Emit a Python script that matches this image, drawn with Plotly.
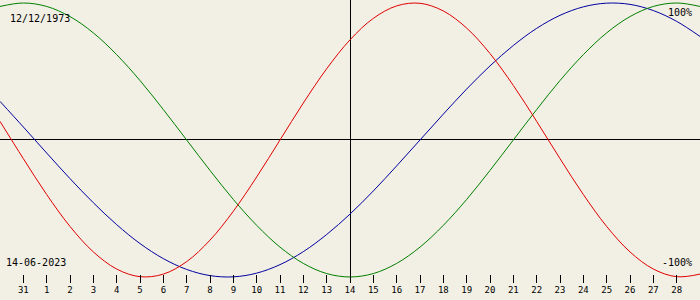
import plotly.graph_objects as go

# day offsets relative to 14 June 2023
days = list(range(-15, 16))
physical = [0.136, -0.136, -0.398, -0.631, -0.817, -0.942, -0.998, -0.979, -0.888, -0.731,
            -0.520, -0.270, 0.0, 0.270, 0.520, 0.731, 0.888, 0.979, 0.998, 0.942,
            0.817, 0.631, 0.398, 0.136, -0.136, -0.398, -0.631, -0.817, -0.942, -0.998, -0.979]
emotional = [0.975, 1.0, 0.975, 0.901, 0.782, 0.623, 0.434, 0.222, 0.0, -0.222,
             -0.434, -0.623, -0.782, -0.901, -0.975, -1.0, -0.975, -0.901, -0.782, -0.623,
             -0.434, -0.222, 0.0, 0.222, 0.434, 0.623, 0.782, 0.901, 0.975, 1.0, 0.975]
intellectual = [0.282, 0.095, -0.095, -0.282, -0.458, -0.618, -0.756, -0.866, -0.945, -0.990,
                -0.999, -0.972, -0.910, -0.815, -0.690, -0.541, -0.372, -0.189, 0.0, 0.189,
                0.372, 0.541, 0.690, 0.815, 0.910, 0.972, 0.999, 0.990, 0.945, 0.866, 0.756]
tick_days = list(range(-14, 15))
tick_labels = ["31"] + [str(d) for d in range(1, 29)]
birth_label = "12/12/1973"
date_label = "14-06-2023"

bg = "#F2EFE4"
fig = go.Figure()
for vals, col in [(intellectual, "#0000A0"), (emotional, "#008000"), (physical, "#E00000")]:
    fig.add_trace(go.Scatter(x=days, y=vals, mode="lines",
                             line=dict(color=col, width=1, shape="spline"),
                             hoverinfo="skip", showlegend=False))

font = dict(family="DejaVu Sans Mono", size=10, color="black")
fig.add_annotation(text=birth_label, xref="paper", yref="paper", x=0.012, y=0.934,
                   xanchor="left", yanchor="middle", showarrow=False, font=font)
fig.add_annotation(text="100%", xref="paper", yref="paper", x=0.991, y=0.957,
                   xanchor="right", yanchor="middle", showarrow=False, font=font)
fig.add_annotation(text=date_label, xref="paper", yref="paper", x=0.005, y=0.074,
                   xanchor="left", yanchor="middle", showarrow=False, font=font)
fig.add_annotation(text="-100%", xref="paper", yref="paper", x=0.991, y=0.074,
                   xanchor="right", yanchor="middle", showarrow=False, font=font)

fig.update_layout(
    width=700, height=300,
    margin=dict(l=0, r=0, t=0, b=17),
    paper_bgcolor=bg, plot_bgcolor=bg,
    xaxis=dict(range=[-15, 15], tickmode="array", tickvals=tick_days, ticktext=tick_labels,
               ticks="inside", ticklen=8, tickcolor="black", tickwidth=1,
               showgrid=False, zeroline=True, zerolinecolor="black", zerolinewidth=1,
               showline=False,
               tickfont=dict(family="DejaVu Sans Mono", size=9, color="black"),
               fixedrange=True),
    yaxis=dict(range=[-1.044, 1.022], showgrid=False, zeroline=True, zerolinecolor="black",
               zerolinewidth=1, showline=False,
               showticklabels=False, ticks="", fixedrange=True),
)
fig.write_html("out.html")
